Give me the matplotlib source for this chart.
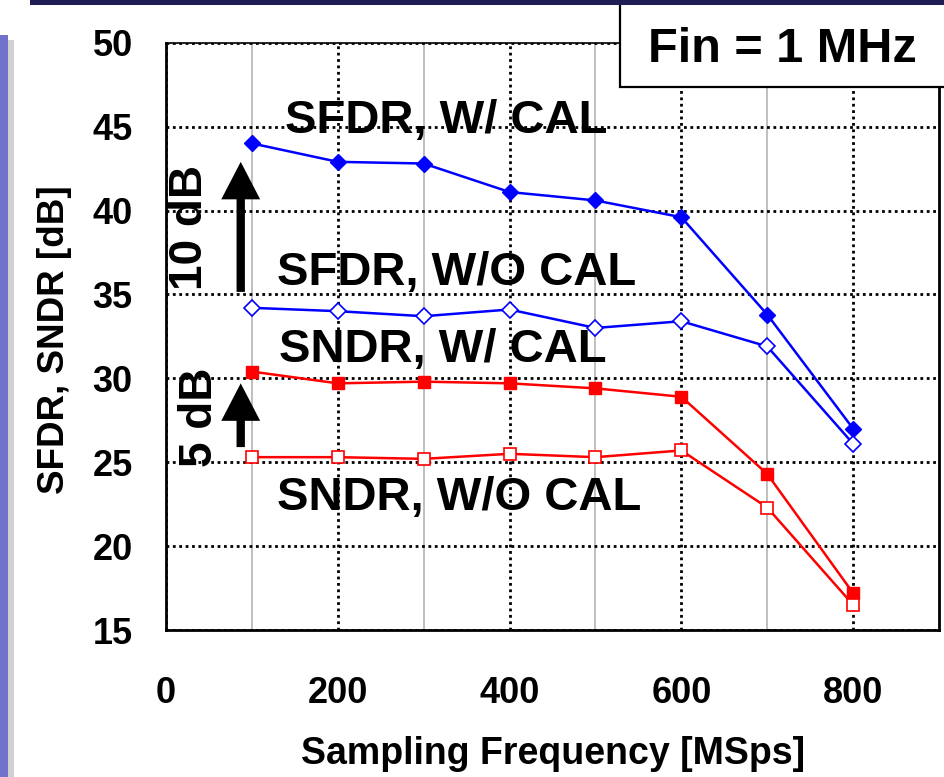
import numpy as np
import matplotlib
matplotlib.use("Agg")
import matplotlib.pyplot as plt
from matplotlib.patches import Rectangle

plt.rcParams['font.family'] = ['Liberation Sans', 'DejaVu Sans']
plt.rcParams['font.weight'] = 'bold'

# data
fs = [100, 200, 300, 400, 500, 600, 700, 800]
sfdr_cal = [44.0, 42.9, 42.8, 41.1, 40.6, 39.6, 33.8, 27.0]
sfdr_nocal = [34.2, 34.0, 33.7, 34.1, 33.0, 33.4, 31.9, 26.1]
sndr_cal = [30.4, 29.7, 29.8, 29.7, 29.4, 28.9, 24.3, 17.2]
sndr_nocal = [25.3, 25.3, 25.2, 25.5, 25.3, 25.7, 22.3, 16.5]
xticks = [0, 200, 400, 600, 800]
yticks = [15, 20, 25, 30, 35, 40, 45, 50]

W, H = 944, 777
fig = plt.figure(figsize=(W/100, H/100), dpi=100)
fig.patch.set_facecolor('white')

# slide decorations
fig.patches.append(Rectangle((30/W, 1-5/H), 1, 5/H, transform=fig.transFigure,
                             facecolor='#1e1e55', edgecolor='none', zorder=5))
fig.patches.append(Rectangle((0, 0), 8/W, 1-35/H, transform=fig.transFigure,
                             facecolor='#7272cc', edgecolor='none', zorder=5))
fig.patches.append(Rectangle((8/W, 0), 6/W, 1-40/H, transform=fig.transFigure,
                             facecolor='#d0d0d0', edgecolor='none', zorder=5))

ax = fig.add_axes([166/W, 1-630/H, (939-166)/W, (630-42.7)/H])
ax.set_xlim(0, 900)
ax.set_ylim(15, 50)
ax.set_xticks(xticks)
ax.set_xticks([100, 300, 500, 700], minor=True)
ax.set_yticks(yticks)
ax.tick_params(axis='both', which='both', length=0, labelsize=26)
ax.tick_params(axis='y', pad=24)
ax.tick_params(axis='x', pad=33)
for lab in ax.get_xticklabels() + ax.get_yticklabels():
    lab.set_fontweight('bold')

ax.grid(True, which='major', axis='y', color='black', lw=2, ls=(0, (1, 1.3)), zorder=1)
ax.grid(True, which='major', axis='x', color='black', lw=2, ls=(0, (1, 1.3)), zorder=1)
ax.grid(True, which='minor', axis='x', color='#b4b4b4', lw=1.2, ls='-', zorder=1)
ax.set_axisbelow(True)
for s in ['left', 'bottom', 'right']:
    ax.spines[s].set_linewidth(2)
ax.spines['top'].set_linewidth(1.2)

ax.plot(fs, sfdr_cal, color='#0000ff', lw=1.8, marker='D', ms=8,
        mfc='#0000ff', mec='#0000ff', zorder=3)
ax.plot(fs, sfdr_nocal, color='#0000ff', lw=1.8, marker='D', ms=8,
        mfc='white', mec='#0000ff', mew=1.2, zorder=3)
ax.plot(fs, sndr_cal, color='#ff0000', lw=1.8, marker='s', ms=9,
        mfc='#ff0000', mec='#ff0000', zorder=3)
ax.plot(fs, sndr_nocal, color='#ff0000', lw=1.8, marker='s', ms=9,
        mfc='white', mec='#ff0000', mew=1.2, zorder=3)

lab_kw = dict(fontsize=34, fontweight='bold', ha='left', va='baseline', zorder=4)
ax.text(138, 44.6, 'SFDR, W/ CAL', **lab_kw)
ax.text(129, 35.55, 'SFDR, W/O CAL', **lab_kw)
ax.text(131, 30.96, 'SNDR, W/ CAL', **lab_kw)
ax.text(129, 22.13, 'SNDR, W/O CAL', **lab_kw)

arrow_kw = dict(arrowstyle='simple,head_length=2.7,head_width=2.8,tail_width=0.6',
                mutation_scale=10, color='black', lw=0, shrinkA=0, shrinkB=0)
ax.annotate('', xy=(87, 42.9), xytext=(87, 35.15), arrowprops=arrow_kw, zorder=4)
ax.annotate('', xy=(87, 29.7), xytext=(87, 25.9), arrowprops=arrow_kw, zorder=4)
ax.text(28, 39.0, '10 dB', fontsize=33, fontweight='bold', rotation=90,
        ha='center', va='center', zorder=4)
ax.text(40, 27.7, '5 dB', fontsize=33, fontweight='bold', rotation=90,
        ha='center', va='center', zorder=4)

fig.text(553/W, 1-754/H, 'Sampling Frequency [MSps]', fontsize=27,
         fontweight='bold', ha='center', va='center')
fig.text(55/W, 1-340/H, 'SFDR, SNDR [dB]', fontsize=26.5, fontweight='bold',
         rotation=90, ha='center', va='center')

# "Fin = 1 MHz" box
fig.patches.append(Rectangle((620/W, 1-87/H), 400/W, 90/H, transform=fig.transFigure,
                             facecolor='white', edgecolor='black', lw=1.6, zorder=3))
fig.text(782/W, 1-50/H, 'Fin = 1 MHz', fontsize=35, fontweight='bold',
         ha='center', va='center', zorder=4)

fig.savefig('out.png', dpi=100)
